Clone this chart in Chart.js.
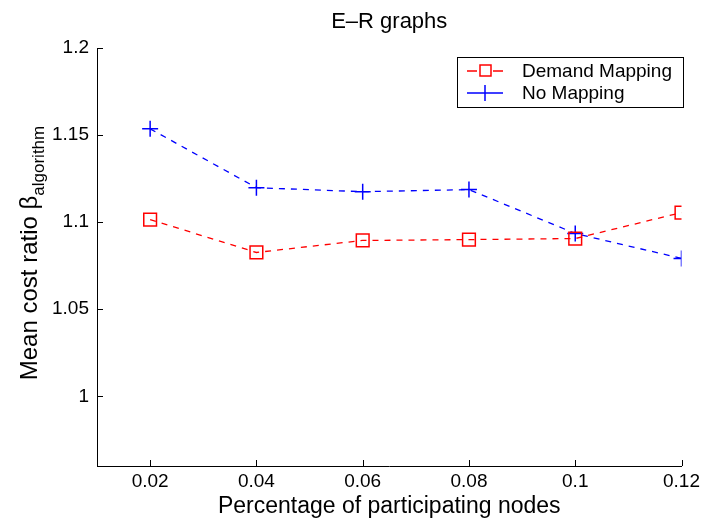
<!DOCTYPE html>
<html>
<head>
<meta charset="utf-8">
<script src="https://cdn.jsdelivr.net/npm/chart.js@4"></script>
<style>
  html, body { margin: 0; padding: 0; background: #fff; }
  #wrap { width: 704px; height: 518px; }
</style>
</head>
<body>
<div id="wrap"><canvas id="chart"></canvas></div>
<script>
// data
const xValues = [0.02, 0.04, 0.06, 0.08, 0.1, 0.12];
const demandMapping = [1.1015, 1.0826, 1.0895, 1.0900, 1.0906, 1.1055];
const noMapping = [1.1536, 1.1198, 1.1175, 1.1187, 1.0935, 1.0792];

const xTicks = [0.02, 0.04, 0.06, 0.08, 0.1, 0.12];
const xTickLabels = ["0.02", "0.04", "0.06", "0.08", "0.1", "0.12"];
const yTicks = [1, 1.05, 1.1, 1.15, 1.2];
const yTickLabels = ["1", "1.05", "1.1", "1.15", "1.2"];

const FONT = "'Liberation Sans Narrow', 'Liberation Sans', Arial, sans-serif";

function points(ys) {
  return xValues.map((x, i) => ({ x: x, y: ys[i] }));
}

// ticks pointing inward, matlab style
const innerTicks = {
  id: "innerTicks",
  afterDraw(chart) {
    const ctx = chart.ctx;
    const a = chart.chartArea;
    const xs = chart.scales.x, ys = chart.scales.y;
    ctx.save();
    ctx.strokeStyle = "#000";
    ctx.lineWidth = 1;
    ctx.beginPath();
    xTicks.forEach(v => {
      const px = Math.round(xs.getPixelForValue(v)) + 0.5;
      ctx.moveTo(px, a.bottom);
      ctx.lineTo(px, a.bottom - 6);
    });
    yTicks.forEach(v => {
      const py = Math.round(ys.getPixelForValue(v)) + 0.5;
      ctx.moveTo(a.left, py);
      ctx.lineTo(a.left + 6, py);
    });
    ctx.stroke();
    ctx.restore();
  }
};

// y axis label with subscript
const yLabel = {
  id: "yLabel",
  afterDraw(chart) {
    const ctx = chart.ctx;
    const main = "Mean cost ratio \u03b2";
    const sub = "algorithm";
    ctx.save();
    ctx.fillStyle = "#000";
    ctx.textBaseline = "alphabetic";
    ctx.font = "24px " + FONT;
    const w1 = ctx.measureText(main).width;
    ctx.font = "17px " + FONT;
    const w2 = ctx.measureText(sub).width;
    const total = w1 + w2;
    ctx.translate(37, 253);
    ctx.rotate(-Math.PI / 2);
    ctx.font = "24px " + FONT;
    ctx.fillText(main, -total / 2, 0);
    ctx.font = "17px " + FONT;
    ctx.fillText(sub, -total / 2 + w1, 7);
    ctx.restore();
  }
};

// legend box inside the plot, top right
const boxLegend = {
  id: "boxLegend",
  afterDraw(chart) {
    const ctx = chart.ctx;
    const bx = 457, by = 57, bw = 226, bh = 50;
    ctx.save();
    ctx.fillStyle = "#fff";
    ctx.fillRect(bx, by, bw, bh);
    ctx.strokeStyle = "#000";
    ctx.lineWidth = 1;
    ctx.strokeRect(bx + 0.5, by + 0.5, bw, bh);
    chart.data.datasets.forEach((ds, i) => {
      const cy = by + 14 + i * 22;
      ctx.strokeStyle = ds.borderColor;
      ctx.lineWidth = 1.3;
      ctx.beginPath();
      ctx.moveTo(bx + 10, cy); ctx.lineTo(bx + 20, cy);
      ctx.moveTo(bx + 36, cy); ctx.lineTo(bx + 46, cy);
      ctx.stroke();
      ctx.lineWidth = 1.5;
      ctx.beginPath();
      if (ds.pointStyle === "rect") {
        ctx.rect(bx + 23, cy - 6, 11, 11);
      } else {
        ctx.moveTo(bx + 20, cy); ctx.lineTo(bx + 36, cy);
        ctx.moveTo(bx + 28, cy - 8); ctx.lineTo(bx + 28, cy + 8);
      }
      ctx.stroke();
      ctx.fillStyle = "#000";
      ctx.font = "19px " + FONT;
      ctx.textBaseline = "middle";
      ctx.fillText(ds.label, bx + 65, cy + 1);
    });
    ctx.restore();
  }
};

new Chart(document.getElementById("chart"), {
  type: "line",
  data: {
    datasets: [
      {
        label: "Demand Mapping",
        data: points(demandMapping),
        borderColor: "#ff0000",
        backgroundColor: "rgba(0,0,0,0)",
        borderWidth: 1.3,
        borderDash: [6, 6],
        pointStyle: "rect",
        pointRadius: 9,
        pointBorderWidth: 1.5,
        pointBorderColor: "#ff0000",
        pointBackgroundColor: "rgba(0,0,0,0)",
        tension: 0
      },
      {
        label: "No Mapping",
        data: points(noMapping),
        borderColor: "#0000ff",
        backgroundColor: "rgba(0,0,0,0)",
        borderWidth: 1.3,
        borderDash: [6, 6],
        pointStyle: "cross",
        pointRadius: 8,
        pointBorderWidth: 1.5,
        pointBorderColor: "#0000ff",
        tension: 0
      }
    ]
  },
  options: {
    responsive: true,
    maintainAspectRatio: false,
    animation: false,
    layout: { padding: { top: 0, right: 18, left: 0, bottom: 0 } },
    plugins: {
      legend: { display: false },
      tooltip: { enabled: false },
      title: {
        display: true,
        text: "E\u2013R graphs",
        fullSize: false,
        color: "#000",
        font: { family: FONT, size: 22, weight: "normal", lineHeight: 1.2 },
        padding: { top: 9, bottom: 12.6 }
      }
    },
    scales: {
      x: {
        type: "linear",
        min: 0.01,
        max: 0.12,
        afterBuildTicks: s => { s.ticks = xTicks.map(v => ({ value: v })); },
        afterFit: s => { s.height = 52; },
        grid: { display: false, drawTicks: false, tickLength: 0 },
        border: { display: true, color: "#000", width: 1 },
        ticks: {
          color: "#000",
          padding: 4,
          maxRotation: 0,
          font: { family: FONT, size: 19 },
          callback: v => xTickLabels[xTicks.indexOf(v)]
        },
        title: { display: true, text: "Percentage of participating nodes", color: "#000",
          font: { family: FONT, size: 23, lineHeight: 1 }, padding: 0 }
      },
      y: {
        min: 0.96,
        max: 1.2,
        afterBuildTicks: s => { s.ticks = yTicks.map(v => ({ value: v })); },
        afterFit: s => { s.width = 97; },
        grid: { display: false, drawTicks: false, tickLength: 0 },
        border: { display: true, color: "#000", width: 1 },
        ticks: {
          color: "#000",
          padding: 8,
          font: { family: FONT, size: 19 },
          callback: v => yTickLabels[yTicks.indexOf(v)]
        }
      }
    }
  },
  plugins: [innerTicks, yLabel, boxLegend]
});
</script>
</body>
</html>
